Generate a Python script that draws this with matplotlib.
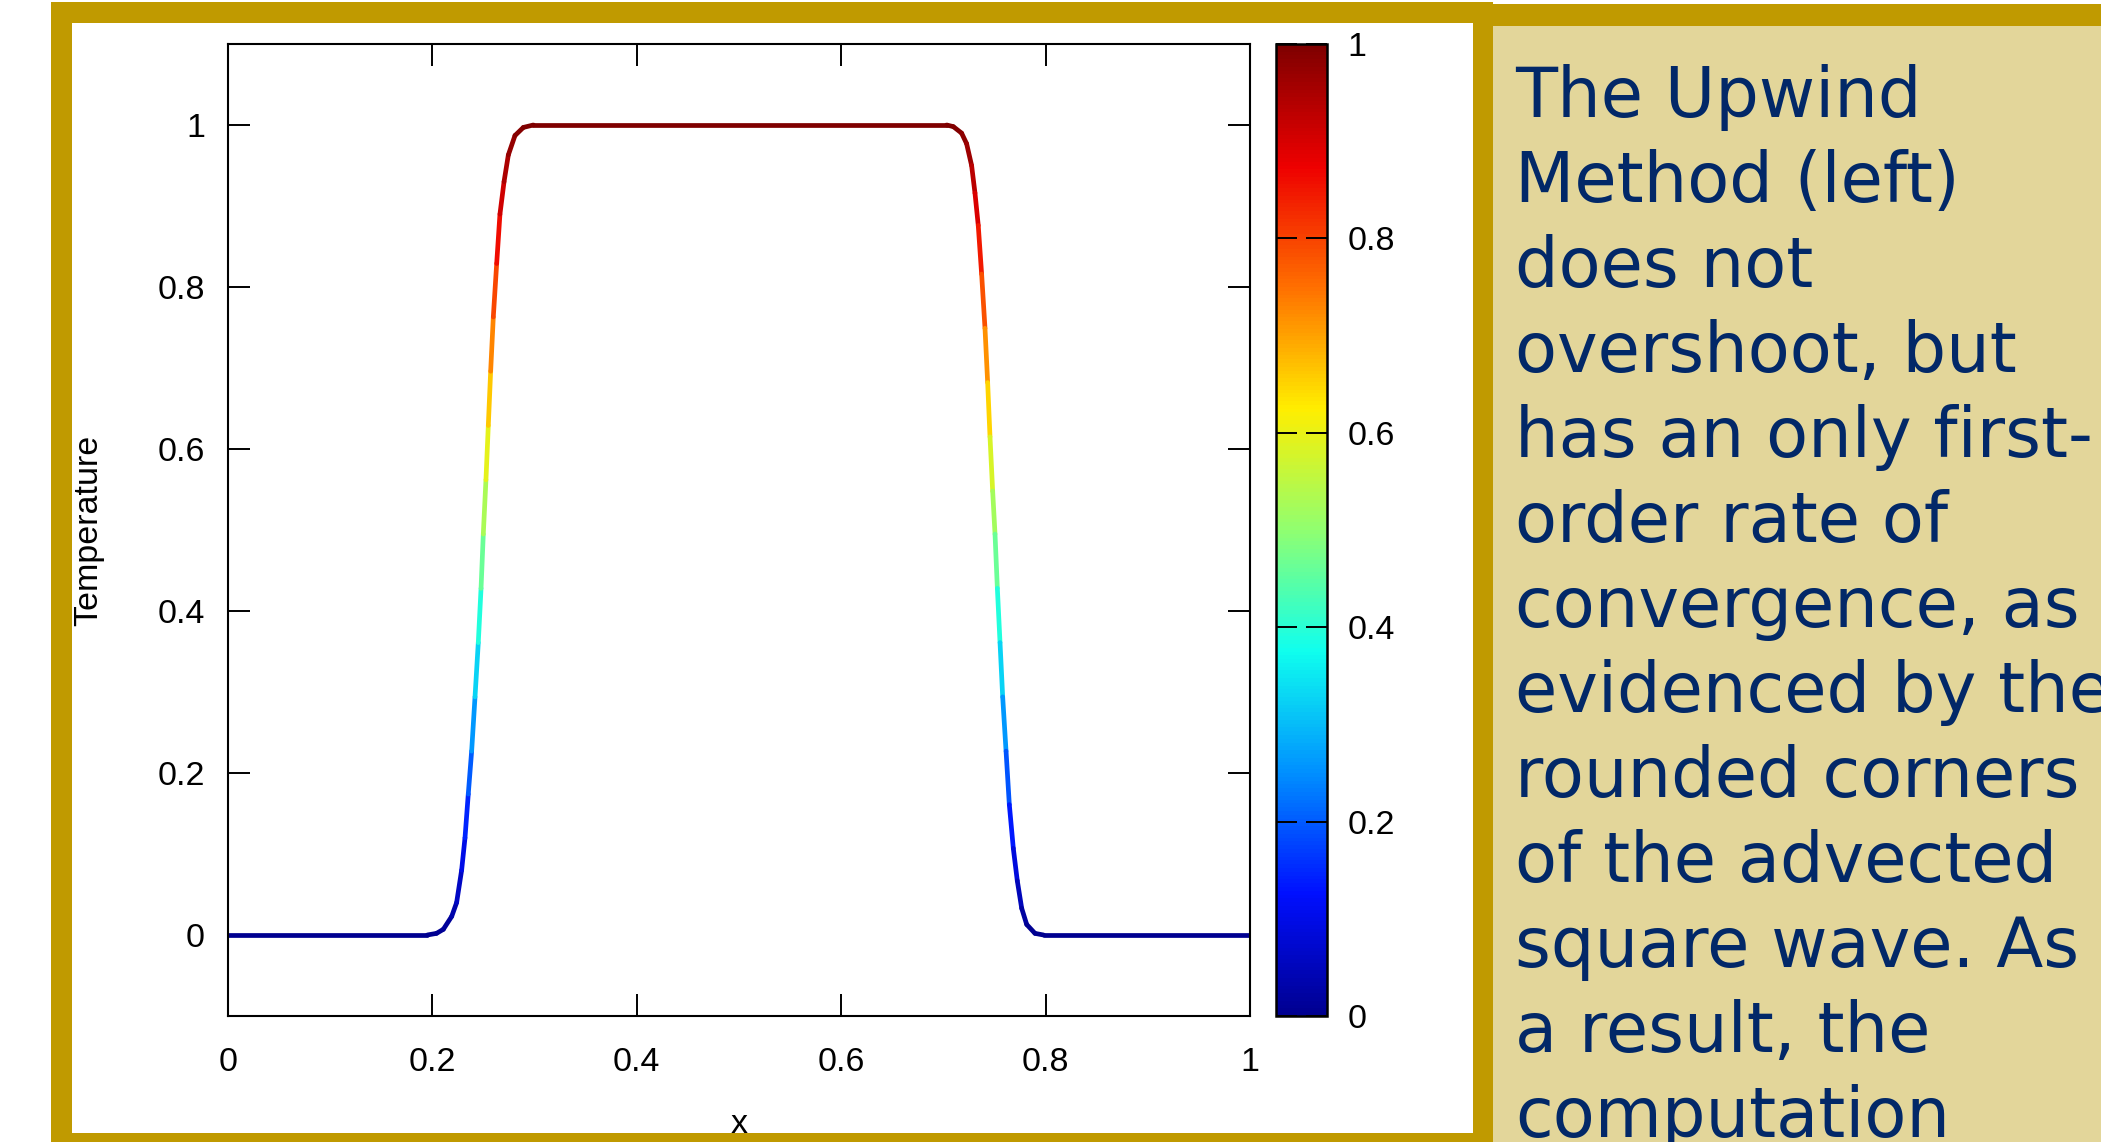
import matplotlib
matplotlib.use('Agg')
import matplotlib.pyplot as plt
import numpy as np
from matplotlib.collections import LineCollection
from matplotlib.colors import LinearSegmentedColormap, Normalize
from matplotlib.patches import Rectangle
from matplotlib.cm import ScalarMappable

# ---------------- data ----------------
x_vals = [0.0, 0.195, 0.2040, 0.2107, 0.2189, 0.2237, 0.2286, 0.2319, 0.2351, 0.2384, 0.2417,
          0.2449, 0.2476, 0.2498, 0.2524, 0.2547, 0.2570, 0.2596, 0.2629, 0.2661, 0.2701,
          0.2743, 0.2808, 0.2890, 0.2988,
          0.7032, 0.7097, 0.7178, 0.7227, 0.7276, 0.7309, 0.7341, 0.7374, 0.7407, 0.7433,
          0.7456, 0.7482, 0.7505, 0.7528, 0.7554, 0.7580, 0.7613, 0.7645, 0.7684, 0.7723,
          0.7766, 0.7815, 0.7896, 0.7980, 1.0]
temperature = [0.0, 0.0, 0.002, 0.007, 0.023, 0.040, 0.080, 0.120, 0.174, 0.227, 0.294,
               0.361, 0.428, 0.495, 0.562, 0.629, 0.696, 0.763, 0.829, 0.890, 0.930,
               0.963, 0.987, 0.997, 1.0,
               1.0, 0.998, 0.990, 0.977, 0.950, 0.916, 0.876, 0.816, 0.749, 0.682,
               0.615, 0.548, 0.495, 0.428, 0.361, 0.294, 0.227, 0.161, 0.107, 0.067,
               0.033, 0.013, 0.002, 0.0, 0.0]
x_ticks = [0, 0.2, 0.4, 0.6, 0.8, 1]
x_tick_labels = ['0', '0.2', '0.4', '0.6', '0.8', '1']
y_ticks = [0, 0.2, 0.4, 0.6, 0.8, 1]
y_tick_labels = ['0', '0.2', '0.4', '0.6', '0.8', '1']
cb_ticks = [0, 0.2, 0.4, 0.6, 0.8, 1]
cb_tick_labels = ['0', '0.2', '0.4', '0.6', '0.8', '1']
x_label = 'x'
y_label = 'Temperature'
side_text = ["The Upwind", "Method (left)", "does not", "overshoot, but",
             "has an only first-", "order rate of", "convergence, as",
             "evidenced by the", "rounded corners", "of the advected",
             "square wave. As", "a result, the", "computation"]

# ---------------- style ----------------
palette = ['#000090', '#000fff', '#0090ff', '#0fffee', '#90ff70',
           '#ffee00', '#ff7000', '#ee0000', '#7f0000']
cmap = LinearSegmentedColormap.from_list('gp_jet', palette, N=256)
norm = Normalize(0, 1)
GOLD = '#C09A00'
BEIGE = '#E3D69A'
NAVY = '#022868'
TICKFONT = 'Liberation Sans'
FS = 24.5

W, H = 2101, 1142
fig = plt.figure(figsize=(W / 100, H / 100), dpi=100)
fig.patch.set_facecolor('white')


def frect(x0, y0, x1, y1, color, z):
    fig.add_artist(Rectangle((x0 / W, 1 - y1 / H), (x1 - x0) / W, (y1 - y0) / H,
                             transform=fig.transFigure, facecolor=color,
                             edgecolor='none', zorder=z))


# axes
ax_l, ax_r, ax_t, ax_b = 228, 1250, 44, 1016
ax = fig.add_axes([ax_l / W, 1 - ax_b / H, (ax_r - ax_l) / W, (ax_b - ax_t) / H])
ax.set_xlim(0, 1)
ax.set_ylim(-0.1, 1.1)

pts = np.column_stack([x_vals, temperature])
segs = np.stack([pts[:-1], pts[1:]], axis=1)
vals = 0.5 * (np.array(temperature[:-1]) + np.array(temperature[1:]))
lc = LineCollection(segs, cmap=cmap, norm=norm, linewidths=3.4,
                    capstyle='round', joinstyle='round')
lc.set_array(vals)
ax.add_collection(lc)

ax.set_xticks(x_ticks)
ax.set_xticklabels(x_tick_labels)
ax.set_yticks(y_ticks)
ax.set_yticklabels(y_tick_labels)
ax.tick_params(axis='both', direction='in', length=15.5, width=1.4,
               top=True, right=True, labelsize=FS)
ax.tick_params(axis='x', pad=22)
ax.tick_params(axis='y', pad=16.5)
for lab in ax.get_xticklabels() + ax.get_yticklabels():
    lab.set_fontfamily(TICKFONT)
for s in ax.spines.values():
    s.set_linewidth(1.5)

ax.set_xlabel(x_label, fontsize=FS, fontfamily=TICKFONT)
ax.xaxis.set_label_coords(0.5, (ax_b - 1133) / (ax_b - ax_t))
ax.xaxis.label.set_verticalalignment('baseline')
ax.set_ylabel(y_label, fontsize=FS, fontfamily=TICKFONT)
ax.yaxis.set_label_coords((97 - ax_l) / (ax_r - ax_l), 0.5)
ax.yaxis.label.set_verticalalignment('baseline')

# colorbar
cax = fig.add_axes([1276 / W, 1 - ax_b / H, 51 / W, (ax_b - ax_t) / H])
sm = ScalarMappable(norm=norm, cmap=cmap)
cb = fig.colorbar(sm, cax=cax)
cb.set_ticks(cb_ticks)
cb.set_ticklabels(cb_tick_labels)
cb.outline.set_linewidth(1.8)
cax.tick_params(direction='in', length=15, width=1.4, left=True, right=True,
                labelleft=False, labelright=True, labelsize=FS, pad=15)
for lab in cax.get_yticklabels():
    lab.set_fontfamily(TICKFONT)

# frame / panel decorations
frect(1493, 26, W, H, BEIGE, 5)
frect(1480, 4, W, 26, GOLD, 6)
frect(51, 2, 72, H, GOLD, 10)
frect(51, 2, 1493, 23, GOLD, 10)
frect(1473, 2, 1493, H, GOLD, 10)
frect(51, 1133, 1493, H + 20, GOLD, 10)

# side text (clipped by the right edge of the picture, as in the original slide)
for i, line in enumerate(side_text):
    base = 117 + 85 * i
    fig.text(1515 / W, 1 - base / H, line, fontsize=49.5, color=NAVY,
             family='DejaVu Sans', ha='left', va='baseline', zorder=12)

fig.savefig('out.png', dpi=100)
